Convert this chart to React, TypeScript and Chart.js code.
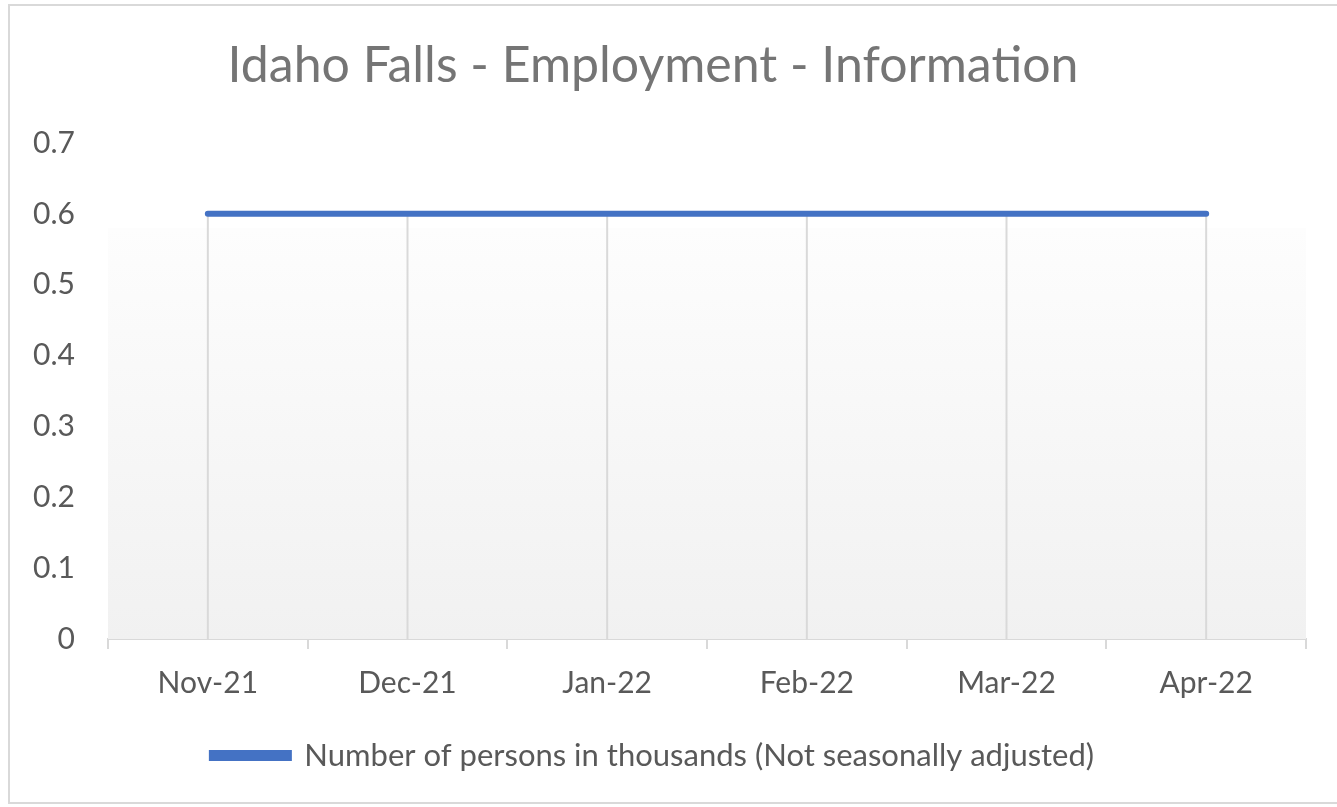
import React, { useEffect, useRef } from "react";
import { Chart, registerables } from "chart.js";

Chart.register(...registerables);

const categories = ["Nov-21", "Dec-21", "Jan-22", "Feb-22", "Mar-22", "Apr-22"];
const employment = [0.6, 0.6, 0.6, 0.6, 0.6, 0.6];
const seriesLabel = "Number of persons in thousands (Not seasonally adjusted)";
const titleText = "Idaho Falls - Employment - Information";
const yMin = 0;
const yMax = 0.7;
const yStep = 0.1;
const fillTopValue = 0.58;

const FONT = "Lato, 'Open Sans', sans-serif";

const plotBg = {
  id: "plotBg",
  beforeDatasetsDraw(chart: any) {
    const { ctx, chartArea, scales } = chart;
    const y = scales.y;
    const top = y.getPixelForValue(fillTopValue);
    const bottom = y.getPixelForValue(yMin);
    const g = ctx.createLinearGradient(0, top, 0, bottom);
    g.addColorStop(0, "#fdfdfd");
    g.addColorStop(1, "#f1f1f1");
    ctx.save();
    ctx.fillStyle = g;
    ctx.fillRect(chartArea.left, top, chartArea.right - chartArea.left, bottom - top);
    const meta = chart.getDatasetMeta(0);
    ctx.strokeStyle = "#d9d9d9";
    ctx.lineWidth = 2;
    meta.data.forEach((pt: any) => {
      ctx.beginPath();
      ctx.moveTo(pt.x, pt.y);
      ctx.lineTo(pt.x, bottom);
      ctx.stroke();
    });
    ctx.restore();
  },
};

export default function App() {
  const ref = useRef<HTMLCanvasElement>(null);
  useEffect(() => {
    if (!ref.current) return;
    const chart = new Chart(ref.current, {
      type: "line",
      data: {
        labels: categories,
        datasets: [
          {
            label: seriesLabel,
            data: employment,
            borderColor: "#4472c4",
            backgroundColor: "#4472c4",
            borderWidth: 6,
            borderCapStyle: "round",
            pointRadius: 0,
            tension: 0,
          },
        ],
      },
      options: {
        animation: false,
        responsive: false,
        layout: { padding: { left: 0, right: 31, top: 30, bottom: 26 } },
        plugins: {
          title: {
            display: true,
            text: titleText,
            color: "#757575",
            font: { family: FONT, size: 50, weight: "normal" },
            padding: { top: 6, bottom: 47 },
          },
          legend: {
            display: true,
            position: "bottom",
            labels: {
              color: "#595959",
              font: { family: FONT, size: 31 },
              boxWidth: 77,
              boxHeight: 5,
              padding: 23,
            },
          },
          tooltip: { enabled: false },
        },
        scales: {
          x: {
            offset: true,
            grid: {
              offset: true,
              drawOnChartArea: false,
              drawTicks: true,
              tickLength: 10,
              color: "#d9d9d9",
              lineWidth: 2,
            },
            border: { display: true, color: "#d9d9d9", width: 2 },
            ticks: {
              color: "#595959",
              font: { family: FONT, size: 30 },
              padding: 16,
              maxRotation: 0,
            },
          },
          y: {
            min: yMin,
            max: yMax,
            grid: { display: false, drawTicks: false },
            border: { display: false },
            ticks: {
              stepSize: yStep,
              color: "#595959",
              font: { family: FONT, size: 30 },
              padding: 33,
              callback: (v: any) => String(Math.round(Number(v) * 10) / 10),
            },
            afterFit: (s: any) => {
              s.width = 108;
            },
          },
        },
      },
      plugins: [plotBg],
    });
    return () => chart.destroy();
  }, []);

  return (
    <div>
      <canvas
        ref={ref}
        width={1337}
        height={807}
        style={{ position: "fixed", left: 0, top: 0, width: 1337, height: 807 }}
      />
      <div
        style={{
          position: "fixed",
          left: 8,
          top: 4,
          width: 1340,
          height: 800,
          border: "2px solid #d9d9d9",
          boxSizing: "border-box",
          pointerEvents: "none",
        }}
      />
    </div>
  );
}
